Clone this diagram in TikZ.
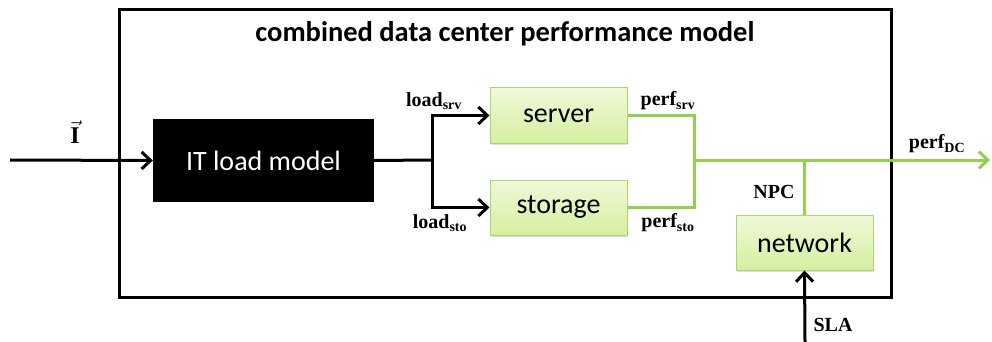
\documentclass[tikz,border=0pt]{standalone}
\usepackage{fontspec}
\setmainfont{Carlito}
\newfontfamily\lblfont{Liberation Serif}
\usetikzlibrary{arrows.meta,shadows}
\definecolor{gline}{HTML}{92D050}
\definecolor{gfillA}{HTML}{F0F9D8}
\definecolor{gfillB}{HTML}{D4EFA0}
\definecolor{gborder}{HTML}{A9D46E}
\begin{document}
\begin{tikzpicture}[x=1pt,y=-1pt,
  blk/.style={line width=3pt},
  gblk/.style={line width=3pt,draw=gline},
  tip/.style={-{Straight Barb[length=9pt,width=17pt,line width=3pt]}},
  gbox/.style={draw=gborder,line width=1pt,top color=gfillA,bottom color=gfillB,minimum width=137pt,minimum height=55pt,inner sep=0pt,font=\fontsize{28}{30}\selectfont,drop shadow={shadow xshift=1pt,shadow yshift=-1.5pt,opacity=0.25}},
  lbl/.style={font=\lblfont\bfseries\fontsize{20}{22}\selectfont,inner sep=0pt}]
\useasboundingbox (0,0) rectangle (992,342);
% frame
\node[draw,line width=3pt,minimum width=772pt,minimum height=287pt,inner sep=0pt] (frame) at (505,153.5) {};
\node[font=\bfseries\fontsize{28.5}{30}\selectfont] (title) at (505,34) {combined data center performance model};
% IT load model
\node[fill=black,text=white,minimum width=221pt,minimum height=83pt,inner sep=0pt,font=\fontsize{28}{30}\selectfont] (it) at (263.5,160.5) {IT load model};
\coordinate (in) at (10,160);
\draw[blk,tip] (in) -- (it.west);
\node[lbl,font=\lblfont\bfseries\fontsize{24}{26}\selectfont] (ivec) at (75,132) {$\vec{\mbox{\lblfont\bfseries I}}$};
% server and storage
\node[gbox] (srv) at (558.5,115.5) {server};
\node[gbox] (sto) at (558.5,207.5) {storage};
\coordinate (br) at (432,160);
\draw[blk] (it.east) -- (br);
\draw[blk,tip] (br) |- (srv.west);
\draw[blk,tip] (br) |- (sto.west);
\node[lbl] (lsrv) at (434,101) {load\textsubscript{srv}};
\node[lbl] (lsto) at (440,223) {load\textsubscript{sto}};
% green outputs
\coordinate (mg) at (694,160);
\draw[gblk] (srv.east) -| (mg);
\draw[gblk] (sto.east) -| (mg);
\node[lbl] (psrv) at (668,101) {perf\textsubscript{srv}};
\node[lbl] (psto) at (668,223) {perf\textsubscript{sto}};
\coordinate (out) at (990,160);
\draw[gblk,tip] (mg) -- (out);
\node[lbl] (pdc) at (937,144) {perf\textsubscript{DC}};
% network
\node[gbox] (net) at (804.5,242.5) {network};
\coordinate (npcj) at (net.north |- mg);
\draw[gline,line width=2.5pt] (net.north) -- (npcj);
\node[lbl] (npc) at (774,192) {NPC};
\coordinate (sla) at (805,342);
\draw[blk,tip] (sla) -- (net.south);
\node[lbl] (slal) at (833,325) {SLA};
\end{tikzpicture}
\end{document}
